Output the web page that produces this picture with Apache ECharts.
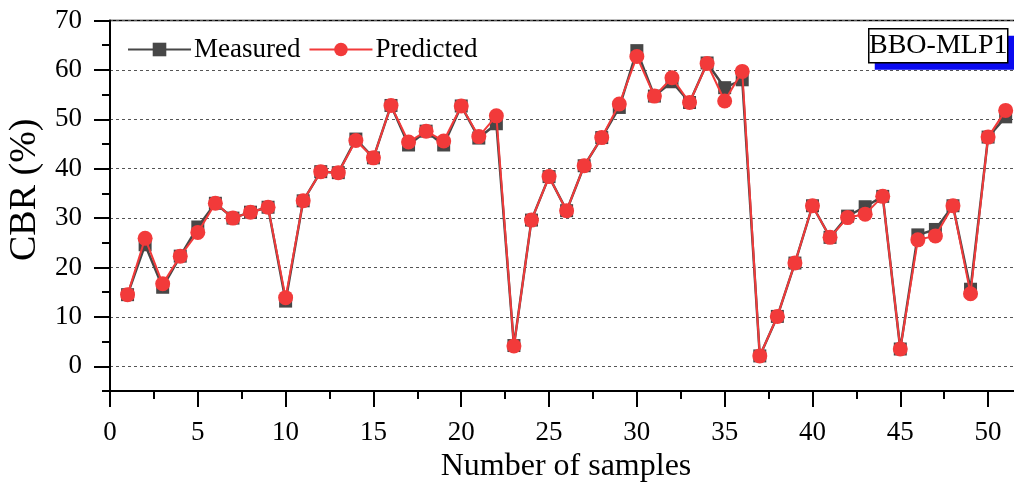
<!DOCTYPE html>
<html>
<head>
<meta charset="utf-8">
<script src="https://cdn.jsdelivr.net/npm/echarts@6/dist/echarts.min.js"></script>
<style>
html,body{margin:0;padding:0;background:#fff;}
#chart{width:1014px;height:486px;}
</style>
</head>
<body>
<div id="chart"></div>
<script>
const samples = [1,2,3,4,5,6,7,8,9,10,11,12,13,14,15,16,17,18,19,20,21,22,23,24,25,26,27,28,29,30,31,32,33,34,35,36,37,38,39,40,41,42,43,44,45,46,47,48,49,50,51];
const measured = [14.5,24.6,16.0,22.3,28.2,33.0,30.0,31.2,32.2,13.2,33.5,39.4,39.2,46.0,42.2,52.8,44.8,47.6,44.8,52.7,46.2,49.1,4.2,29.6,38.4,31.5,40.6,46.3,52.4,63.9,54.7,57.6,53.4,61.4,56.4,58.0,2.1,10.1,20.9,32.5,26.1,30.4,32.3,34.4,3.5,26.6,27.7,32.5,15.6,46.4,50.5];
const predicted = [14.5,25.9,16.7,22.3,27.1,33.0,30.0,31.2,32.2,13.9,33.5,39.4,39.2,45.7,42.2,52.8,45.4,47.6,45.6,52.7,46.5,50.7,4.1,29.6,38.4,31.5,40.6,46.3,53.1,62.7,54.7,58.4,53.4,61.3,53.7,59.7,2.1,10.1,20.9,32.5,26.1,30.1,30.8,34.4,3.5,25.6,26.4,32.5,14.7,46.4,51.8];
const seriesNames = ['Measured','Predicted'];
const xTitle = 'Number of samples';
const yTitle = 'CBR (%)';
const modelLabel = 'BBO-MLP1';
const yMajorTicks = [0,10,20,30,40,50,60,70];

const serif = '"Liberation Serif", "DejaVu Serif", serif';
const chart = echarts.init(document.getElementById('chart'), null, {renderer:'canvas'});

const toPairs = arr => arr.map((v,i)=>[samples[i], v]);

chart.setOption({
  backgroundColor: '#ffffff',
  animation: false,
  grid: {left:110, right:-18, top:20.5, bottom:95, outerBoundsMode:'none', containLabel:false,
    show:true, borderColor:'#000', borderWidth:1.5, backgroundColor:'transparent'},
  legend: {
    left: 122, top: 31, itemWidth: 63, itemHeight: 17, itemGap: 8,
    data: seriesNames,
    textStyle: {fontFamily: serif, fontSize: 27, color:'#000', padding:[0,0,0,-2]}
  },
  xAxis: {
    type:'value', min:0, max:52.5, interval:5,
    name: xTitle, nameLocation:'middle', nameGap:60,
    nameTextStyle:{fontFamily:serif, fontSize:32, color:'#000', verticalAlign:'top', padding:[0,10,0,0]},
    axisLine:{show:true, onZero:false, lineStyle:{color:'#000', width:2}},
    axisTick:{show:true, length:16, lineStyle:{color:'#000', width:2}},
    minorTick:{show:true, splitNumber:2, length:8, lineStyle:{color:'#000', width:2}},
    axisLabel:{fontFamily:serif, fontSize:27, color:'#000', margin:28,
      formatter: v => (v % 5 === 0 ? String(v) : '')},
    splitLine:{show:false}
  },
  yAxis: [{
    type:'value', min:-5, max:70, interval:5, position:'left',
    name: yTitle, nameLocation:'middle', nameGap:62,
    nameTextStyle:{fontFamily:serif, fontSize:38, color:'#000', padding:[0,0,0,32]},
    axisLine:{show:true, onZero:false, lineStyle:{color:'#000', width:2}},
    axisTick:{show:true, length:8, lineStyle:{color:'#000', width:2}},
    axisLabel:{fontFamily:serif, fontSize:27, color:'#000', margin:28,
      formatter: v => (v % 10 === 0 ? String(v) : '')},
    splitLine:{show:true, lineStyle:{color:['rgba(0,0,0,0)','#555'], type:[3,3], width:1}}
  },{
    type:'value', min:-5, max:70, interval:5, position:'left', offset:0,
    axisLine:{show:false},
    axisTick:{show:true, length:16, customValues:yMajorTicks, lineStyle:{color:'#000', width:2}},
    axisLabel:{show:false},
    splitLine:{show:false}
  }],
  series: [{
    name: seriesNames[0], type:'line', data: toPairs(measured),
    symbol:'rect', symbolSize:13,
    itemStyle:{color:'#474747'},
    lineStyle:{color:'#474747', width:2.5},
    z: 2
  },{
    name: seriesNames[1], type:'line', data: toPairs(predicted),
    symbol:'circle', symbolSize:15,
    itemStyle:{color:'#f23a3a'},
    lineStyle:{color:'#f23a3a', width:2},
    z: 3
  }],
  graphic: [{
    type:'group', left: 868, top: 28,
    children: [
      {type:'rect', shape:{x:6, y:7, width:146, height:34}, style:{fill:'#0a0af0'}},
      {type:'rect', shape:{x:0, y:0, width:139, height:34}, style:{fill:'#fff', stroke:'#000', lineWidth:1.5}},
      {type:'text', x:69.5, y:17, style:{text:modelLabel, font:'28px ' + serif, fill:'#000', align:'center', verticalAlign:'middle'}}
    ]
  }]
});
</script>
</body>
</html>
